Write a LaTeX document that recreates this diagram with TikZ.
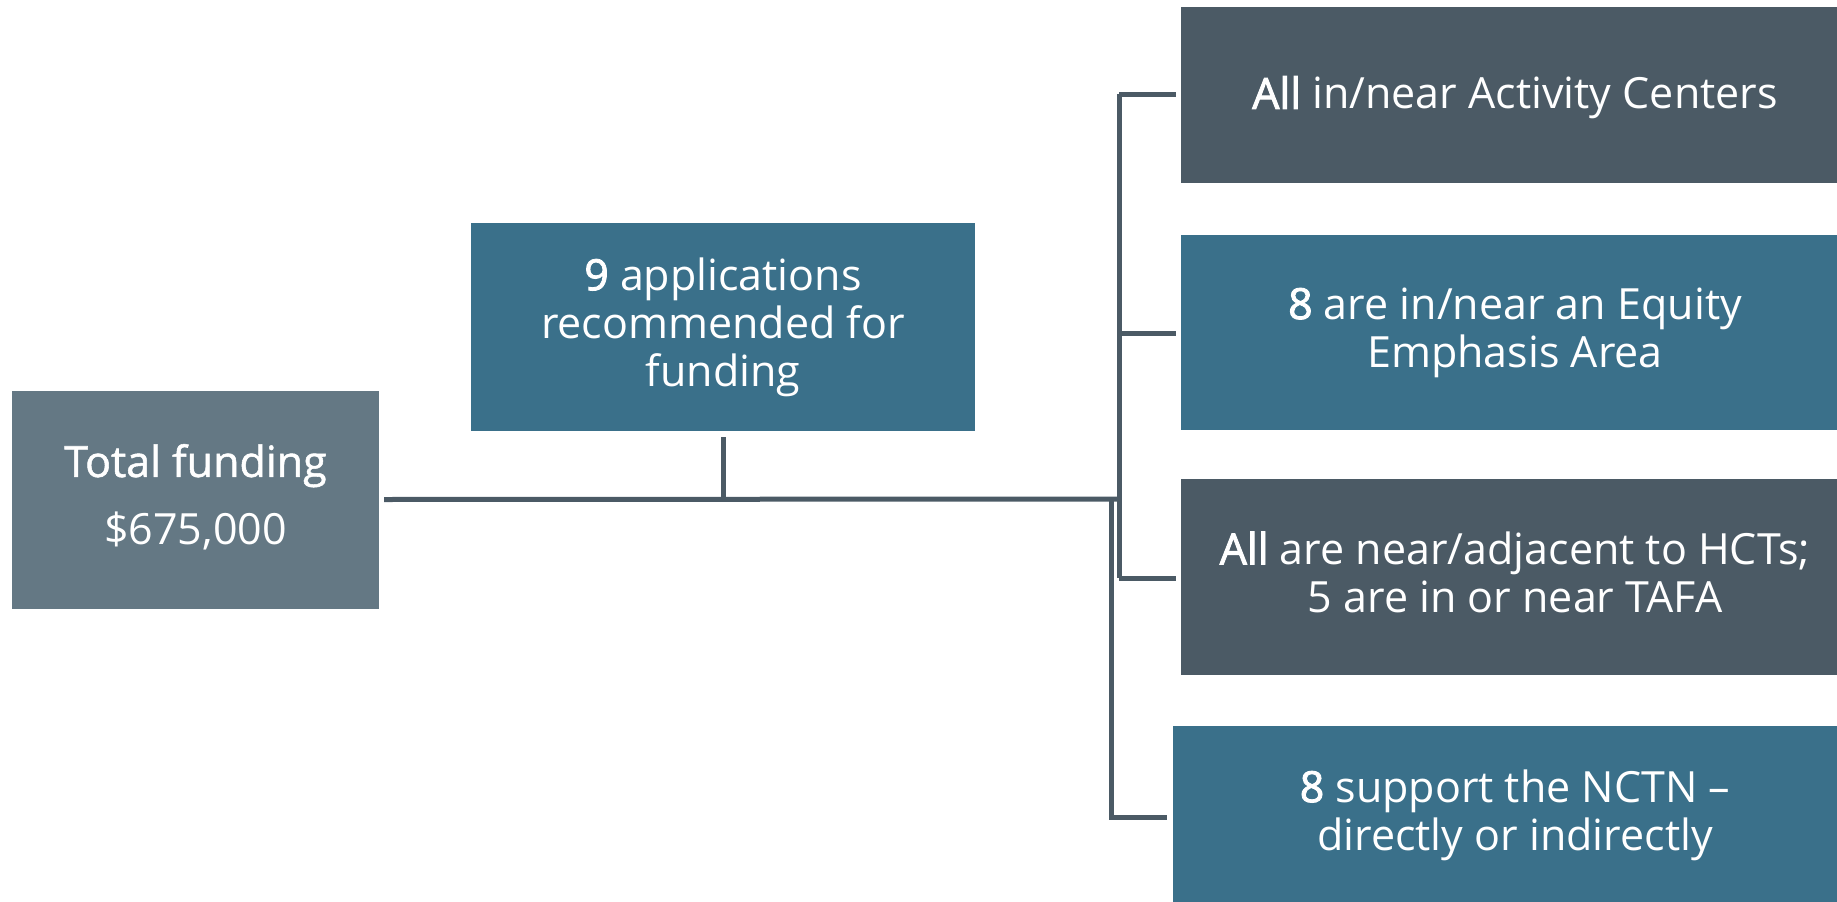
\documentclass[tikz,border=0pt]{standalone}
\usepackage{fontspec}
\setmainfont{Open Sans}
\newfontfamily\medfont[FakeBold=1.2]{Open Sans}
\newfontfamily\strongfont[FakeBold=2]{Open Sans}
\definecolor{slate}{HTML}{647884}
\definecolor{steel}{HTML}{3A708A}
\definecolor{charcoal}{HTML}{4B5A65}
\tikzset{
  box/.style={rectangle, inner sep=0pt, text=white, align=center,
    font=\fontsize{43}{48}\selectfont,
    execute at begin node={\rule{0pt}{38pt}},
    execute at end node={\rule[-10pt]{0pt}{10pt}}},
  link/.style={draw=charcoal, line width=5pt},
}
\begin{document}
\begin{tikzpicture}[x=1pt,y=-1pt]
\useasboundingbox (0,0) rectangle (1837,902);
\clip (0,0) rectangle (1837,902);
\node[box, fill=slate, minimum width=367pt, minimum height=218pt] (total) at (195.5,499.5)
  {{\medfont Total funding}\\[20pt]\$675,000};
\node[box, fill=steel, minimum width=504pt, minimum height=208pt] (apps) at (723,327)
  {{\strongfont 9} applications\\recommended for\\funding};
\node[box, fill=charcoal, minimum width=668pt, minimum height=176pt] (act) at (1515,95)
  {{\strongfont All} in/near Activity Centers};
\node[box, fill=steel, minimum width=668pt, minimum height=195pt] (eq) at (1515,332.5)
  {{\strongfont 8} are in/near an Equity\\Emphasis Area};
\node[box, fill=charcoal, minimum width=668pt, minimum height=196pt] (hct) at (1515,577)
  {{\strongfont All} are near/adjacent to HCTs;\\5 are in or near TAFA};
\node[box, fill=steel, minimum width=684pt, minimum height=178pt] (nctn) at (1515,815)
  {{\strongfont 8} support the NCTN --\\directly or indirectly};
\coordinate (tA) at (1119,94);
\coordinate (tB) at (1119,333);
\coordinate (tC) at (1119,578);
\coordinate (tD) at (1111,817);
\coordinate (jn) at (1119,499);
\coordinate (jn2) at (1111,499);
\coordinate (stub) at (723,499);
\draw[link] ([xshift=5pt]total.east) -- (jn);
\draw[link] ([yshift=-6pt]apps.south) -- (stub);
\draw[link] (tA) -- (tC);
\draw[link] (tA) -- ([xshift=-5pt]act.west |- tA);
\draw[link] (tB) -- ([xshift=-5pt]eq.west |- tB);
\draw[link] (tC) -- ([xshift=-5pt]hct.west |- tC);
\draw[link] (jn2) -- (tD) -- ([xshift=-6pt]nctn.west |- tD);
\end{tikzpicture}
\end{document}
